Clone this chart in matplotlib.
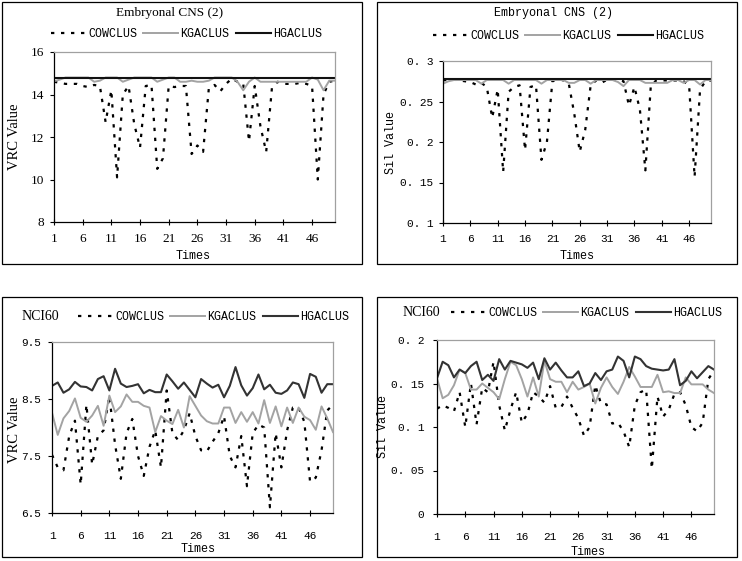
import matplotlib
matplotlib.use("Agg")
import matplotlib.pyplot as plt
from matplotlib.patches import Rectangle

times = list(range(1, 51))
x_ticks = [1, 6, 11, 16, 21, 26, 31, 36, 41, 46]
series_names = ["COWCLUS", "KGACLUS", "HGACLUS"]

# ---- Embryonal CNS (2), VRC ----
cns_vrc_cow = [14.6, 14.55, 14.5, 14.5, 14.5, 14.4, 14.35, 14.45, 14.4, 12.7,
               14.2, 10.1, 14.0, 14.4, 12.6, 11.5, 14.4, 14.45, 10.5, 11.0,
               14.4, 14.35, 14.4, 14.4, 11.2, 11.6, 11.3, 14.3, 14.45, 14.15,
               14.5, 14.75, 14.6, 14.5, 11.8, 14.4, 12.5, 11.3, 14.3, 14.6,
               14.5, 14.5, 14.5, 14.55, 14.5, 14.4, 10.0, 14.0, 14.6, 14.65]
cns_vrc_kga = [14.62, 14.7, 14.8, 14.8, 14.8, 14.8, 14.8, 14.6, 14.65, 14.8,
               14.8, 14.8, 14.6, 14.7, 14.8, 14.8, 14.8, 14.8, 14.6, 14.7,
               14.8, 14.8, 14.6, 14.6, 14.65, 14.6, 14.6, 14.65, 14.8, 14.8,
               14.8, 14.8, 14.6, 14.2, 14.6, 14.8, 14.6, 14.6, 14.6, 14.6,
               14.6, 14.6, 14.6, 14.6, 14.6, 14.8, 14.7, 14.2, 14.65, 14.65]
cns_vrc_hga = [14.8, 14.8, 14.8, 14.8, 14.8, 14.8, 14.8, 14.8, 14.8, 14.8,
               14.8, 14.8, 14.8, 14.8, 14.8, 14.8, 14.8, 14.8, 14.8, 14.8,
               14.8, 14.8, 14.8, 14.8, 14.8, 14.8, 14.8, 14.8, 14.8, 14.8,
               14.8, 14.8, 14.8, 14.8, 14.8, 14.8, 14.8, 14.8, 14.8, 14.8,
               14.8, 14.8, 14.8, 14.8, 14.8, 14.8, 14.8, 14.8, 14.8, 14.8]

# ---- Embryonal CNS (2), Sil ----
cns_sil_cow = [0.276, 0.277, 0.277, 0.276, 0.275, 0.274, 0.271, 0.273, 0.268, 0.23,
               0.265, 0.163, 0.262, 0.268, 0.27, 0.19, 0.268, 0.27, 0.178, 0.2,
               0.275, 0.278, 0.276, 0.272, 0.235, 0.188, 0.215, 0.27, 0.276, 0.273,
               0.277, 0.277, 0.277, 0.275, 0.245, 0.268, 0.24, 0.165, 0.27, 0.276,
               0.276, 0.276, 0.276, 0.276, 0.275, 0.27, 0.157, 0.265, 0.275, 0.276]
cns_sil_kga = [0.272, 0.275, 0.2765, 0.2765, 0.2765, 0.2765, 0.2765, 0.272, 0.2765, 0.2765,
               0.2765, 0.2765, 0.272, 0.2765, 0.2765, 0.2765, 0.2765, 0.2765, 0.272, 0.2765,
               0.2765, 0.2765, 0.2765, 0.273, 0.273, 0.2765, 0.2765, 0.272, 0.2765, 0.2765,
               0.2765, 0.2765, 0.274, 0.269, 0.2765, 0.2765, 0.2765, 0.273, 0.273, 0.273,
               0.273, 0.273, 0.2765, 0.2765, 0.273, 0.2765, 0.2765, 0.271, 0.2765, 0.2765]
cns_sil_hga = [0.2775, 0.2775, 0.2775, 0.2775, 0.2775, 0.2775, 0.2775, 0.2775, 0.2775, 0.2775,
               0.2775, 0.2775, 0.2775, 0.2775, 0.2775, 0.2775, 0.2775, 0.2775, 0.2775, 0.2775,
               0.2775, 0.2775, 0.2775, 0.2775, 0.2775, 0.2775, 0.2775, 0.2775, 0.2775, 0.2775,
               0.2775, 0.2775, 0.2775, 0.2775, 0.2775, 0.2775, 0.2775, 0.2775, 0.2775, 0.2775,
               0.2775, 0.2775, 0.2775, 0.2775, 0.2775, 0.2775, 0.2775, 0.2775, 0.2775, 0.2775]

# ---- NCI60, VRC ----
nci_vrc_cow = [7.52, 7.3, 7.25, 7.85, 8.12, 7.0, 8.4, 7.35, 7.85, 7.95,
               8.55, 7.7, 7.1, 7.9, 8.15, 7.5, 7.15, 7.66, 7.95, 7.3,
               8.65, 7.9, 7.78, 7.95, 8.25, 7.85, 7.6, 7.58, 7.75, 7.9,
               8.2, 7.5, 7.3, 7.85, 6.97, 7.9, 8.05, 8.0, 6.6, 7.9,
               7.3, 7.95, 8.35, 8.35, 8.1, 7.05, 7.12, 7.6, 8.3, 8.4]
nci_vrc_kga = [8.26, 7.87, 8.16, 8.29, 8.51, 8.17, 8.1, 8.21, 8.38, 8.03,
               8.56, 8.27, 8.37, 8.58, 8.45, 8.45, 8.38, 8.35, 7.92, 8.2,
               8.12, 8.06, 8.31, 8.0, 8.55, 8.38, 8.21, 8.11, 8.07, 8.07,
               8.35, 8.35, 8.08, 8.27, 8.1, 8.27, 8.07, 8.48, 8.08, 8.37,
               8.02, 8.35, 8.08, 8.35, 8.19, 8.13, 7.96, 8.37, 8.16, 7.92]
nci_vrc_hga = [8.73, 8.79, 8.61, 8.67, 8.8, 8.72, 8.71, 8.65, 8.85, 8.9,
               8.65, 9.03, 8.77, 8.71, 8.73, 8.76, 8.6, 8.66, 8.62, 8.62,
               8.93, 8.81, 8.68, 8.79, 8.66, 8.53, 8.85, 8.77, 8.7, 8.75,
               8.53, 8.73, 9.06, 8.74, 8.56, 8.69, 8.93, 8.67, 8.75, 8.61,
               8.59, 8.65, 8.79, 8.76, 8.52, 8.94, 8.89, 8.61, 8.76, 8.76]

# ---- NCI60, Sil ----
nci_sil_cow = [0.121, 0.125, 0.122, 0.118, 0.14, 0.1, 0.15, 0.103, 0.145, 0.14,
               0.175, 0.125, 0.096, 0.12, 0.14, 0.105, 0.115, 0.14, 0.135, 0.128,
               0.147, 0.122, 0.123, 0.135, 0.122, 0.11, 0.09, 0.1, 0.148, 0.127,
               0.126, 0.104, 0.105, 0.095, 0.077, 0.125, 0.14, 0.143, 0.052, 0.135,
               0.112, 0.12, 0.138, 0.14, 0.125, 0.1, 0.095, 0.105, 0.155, 0.165]
nci_sil_kga = [0.156, 0.133, 0.137, 0.148, 0.166, 0.162, 0.143, 0.143, 0.15, 0.145,
               0.14, 0.132, 0.155, 0.175, 0.171, 0.155, 0.135, 0.157, 0.135, 0.176,
               0.155, 0.152, 0.152, 0.14, 0.152, 0.143, 0.146, 0.15, 0.127, 0.145,
               0.157, 0.146, 0.138, 0.152, 0.169, 0.158, 0.146, 0.146, 0.146, 0.16,
               0.14, 0.141, 0.139, 0.139, 0.157, 0.149, 0.149, 0.149, 0.143, 0.139]
nci_sil_hga = [0.156, 0.175, 0.171, 0.157, 0.166, 0.162, 0.17, 0.175, 0.154, 0.16,
               0.153, 0.178, 0.166, 0.176, 0.174, 0.172, 0.168, 0.174, 0.155, 0.179,
               0.166, 0.174, 0.165, 0.157, 0.157, 0.164, 0.147, 0.15, 0.162, 0.154,
               0.164, 0.166, 0.181, 0.176, 0.157, 0.181, 0.178, 0.17, 0.167, 0.166,
               0.165, 0.166, 0.178, 0.148, 0.153, 0.164, 0.156, 0.163, 0.17, 0.166]

vrc_cns_yticks = [8, 10, 12, 14, 16]
vrc_cns_ylabels = ["8", "10", "12", "14", "16"]
sil_cns_yticks = [0.1, 0.15, 0.2, 0.25, 0.3]
sil_cns_ylabels = ["0. 1", "0. 15", "0. 2", "0. 25", "0. 3"]
vrc_nci_yticks = [6.5, 7.5, 8.5, 9.5]
vrc_nci_ylabels = ["6.5", "7.5", "8.5", "9.5"]
sil_nci_yticks = [0, 0.05, 0.1, 0.15, 0.2]
sil_nci_ylabels = ["0", "0. 05", "0. 1", "0. 15", "0. 2"]

W, H = 742, 561
fig = plt.figure(figsize=(W / 100, H / 100), dpi=100)
fig.patch.set_facecolor("white")

SERIF = "Liberation Serif"
MONO = "Liberation Mono"


def fx(px):
    return px / W


def fy(py):
    return 1 - py / H


def border(x0, y0, x1, y1):
    fig.patches.append(Rectangle((fx(x0), fy(y1)), fx(x1) - fx(x0), fy(y0) - fy(y1),
                                 transform=fig.transFigure, fill=False,
                                 ec="black", lw=0.9))


def panel(rect_px, cow, kga, hga, hcolor, yticks, ylabels, ylim, tickfont, tsize,
          xpad, ypad, ylab, ylab_pos, ylab_font, ylab_size, xlab_pos, xlab_font,
          xlab_size, leg_pos, title=None, title_pos=None, title_font=None,
          title_size=None, nci_pos=None):
    l, t, r, b = rect_px
    ax = fig.add_axes([fx(l), fy(b), fx(r) - fx(l), fy(t) - fy(b)])
    h1, = ax.plot(times, cow, color="black", lw=1.6, linestyle=(0, (1.5, 3.0)),
                  dash_capstyle="butt")
    h2, = ax.plot(times, kga, color="#a3a3a3", lw=1.4)
    h3, = ax.plot(times, hga, color=hcolor, lw=1.5)
    ax.set_xlim(1, 50)
    ax.set_ylim(*ylim)
    ax.set_xticks(x_ticks)
    ax.set_xticklabels([str(v) for v in x_ticks], family=tickfont, fontsize=tsize)
    ax.set_yticks(yticks)
    ax.set_yticklabels(ylabels, family=tickfont, fontsize=tsize)
    ax.tick_params(axis="x", direction="inout", length=4, width=0.8, pad=xpad)
    ax.tick_params(axis="y", direction="out", length=3, width=0.8, pad=ypad)
    for s in ("left", "bottom"):
        ax.spines[s].set_color("black")
        ax.spines[s].set_linewidth(0.9)
    for s in ("top", "right"):
        ax.spines[s].set_color("#a0a0a0")
        ax.spines[s].set_linewidth(0.9)
    fig.text(fx(ylab_pos[0]), fy(ylab_pos[1]), ylab, rotation=90, ha="center",
             va="center", family=ylab_font, fontsize=ylab_size)
    fig.text(fx(xlab_pos[0]), fy(xlab_pos[1]), "Times", ha="center", va="center",
             family=xlab_font, fontsize=xlab_size)
    if title is not None:
        fig.text(fx(title_pos[0]), fy(title_pos[1]), title, ha="center", va="center",
                 family=title_font, fontsize=title_size)
    if nci_pos is not None:
        fig.text(fx(nci_pos[0]), fy(nci_pos[1]), "NCI60", ha="left", va="center",
                 family=SERIF, fontsize=10)
    ax.legend([h1, h2, h3], series_names, loc="center left",
              bbox_to_anchor=(fx(leg_pos[0]), fy(leg_pos[1])),
              bbox_transform=fig.transFigure, ncol=3, frameon=False,
              prop={"family": MONO, "size": 8.4}, handlelength=3.0,
              handletextpad=0.17, columnspacing=0.55, borderpad=0,
              borderaxespad=0)
    return ax


# panel borders
border(2, 2, 362, 264)
border(377, 2, 737, 264)
border(2, 297, 362, 557)
border(377, 297, 737, 557)

panel((54, 52, 335, 222), cns_vrc_cow, cns_vrc_kga, cns_vrc_hga, "#111111",
      vrc_cns_yticks, vrc_cns_ylabels, (8, 16), SERIF, 9.5, 6, 4,
      "VRC Value", (15, 137), SERIF, 10.5, (193, 256), MONO, 8.5,
      (51, 34), title="Embryonal CNS (2)", title_pos=(170, 13),
      title_font=SERIF, title_size=9.5)

panel((443, 61, 711, 223), cns_sil_cow, cns_sil_kga, cns_sil_hga, "#111111",
      sil_cns_yticks, sil_cns_ylabels, (0.1, 0.3), MONO, 8, 6, 4,
      "Sil Value", (391, 142), MONO, 8.5, (577, 256), MONO, 8.5,
      (433, 36), title="Embryonal CNS (2)", title_pos=(553, 13),
      title_font=MONO, title_size=8.5)

panel((52, 342, 333, 513), nci_vrc_cow, nci_vrc_kga, nci_vrc_hga, "#333333",
      vrc_nci_yticks, vrc_nci_ylabels, (6.5, 9.5), MONO, 8, 11, 5,
      "VRC Value", (14, 430), SERIF, 10.5, (198, 549), MONO, 8.5,
      (78, 317), nci_pos=(22, 317))

panel((437, 340, 714, 514), nci_sil_cow, nci_sil_kga, nci_sil_hga, "#333333",
      sil_nci_yticks, sil_nci_ylabels, (0, 0.2), MONO, 8, 11, 6,
      "Sil Value", (383, 427), MONO, 8.5, (588, 552), MONO, 8.5,
      (451, 313), nci_pos=(403, 313))

fig.savefig("out.png", dpi=100, facecolor="white")
